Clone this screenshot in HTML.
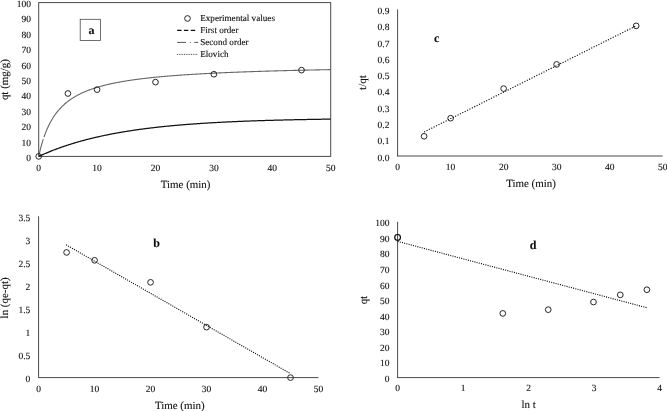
<!DOCTYPE html>
<html><head><meta charset="utf-8"><title>Kinetic models</title>
<style>
html,body{margin:0;padding:0;background:#fff;}
body{width:667px;height:411px;overflow:hidden;}
svg{display:block;font-family:"Liberation Serif","Times New Roman",serif;fill:#111;}
text{stroke:#111;stroke-width:0.12px;text-rendering:geometricPrecision;}
</style></head><body>
<svg width="667" height="411" viewBox="0 0 667 411">
<rect x="0" y="0" width="667" height="411" fill="#fff"/>
<rect x="38.7" y="2.6" width="292.00" height="153.80" fill="none" stroke="#4a4a4a" stroke-width="1.0"/>
<text x="31.00" y="160.90" font-size="9.5" text-anchor="end" font-weight="normal">0</text>
<text x="31.00" y="145.52" font-size="9.5" text-anchor="end" font-weight="normal">10</text>
<text x="31.00" y="130.14" font-size="9.5" text-anchor="end" font-weight="normal">20</text>
<text x="31.00" y="114.76" font-size="9.5" text-anchor="end" font-weight="normal">30</text>
<text x="31.00" y="99.38" font-size="9.5" text-anchor="end" font-weight="normal">40</text>
<text x="31.00" y="84.00" font-size="9.5" text-anchor="end" font-weight="normal">50</text>
<text x="31.00" y="68.62" font-size="9.5" text-anchor="end" font-weight="normal">60</text>
<text x="31.00" y="53.24" font-size="9.5" text-anchor="end" font-weight="normal">70</text>
<text x="31.00" y="37.86" font-size="9.5" text-anchor="end" font-weight="normal">80</text>
<text x="31.00" y="22.48" font-size="9.5" text-anchor="end" font-weight="normal">90</text>
<text x="31.00" y="7.10" font-size="9.5" text-anchor="end" font-weight="normal">100</text>
<text x="38.70" y="170.60" font-size="9.5" text-anchor="middle" font-weight="normal">0</text>
<text x="97.10" y="170.60" font-size="9.5" text-anchor="middle" font-weight="normal">10</text>
<text x="155.50" y="170.60" font-size="9.5" text-anchor="middle" font-weight="normal">20</text>
<text x="213.90" y="170.60" font-size="9.5" text-anchor="middle" font-weight="normal">30</text>
<text x="272.30" y="170.60" font-size="9.5" text-anchor="middle" font-weight="normal">40</text>
<text x="330.70" y="170.60" font-size="9.5" text-anchor="middle" font-weight="normal">50</text>
<text x="185.60" y="188.30" font-size="10.95" text-anchor="middle" font-weight="normal">Time (min)</text>
<text x="8.50" y="79.60" font-size="10.95" text-anchor="middle" font-weight="normal" transform="rotate(-90 8.50 79.60)">qt (mg/g)</text>
<polyline fill="none" stroke="#666" stroke-width="1.1" stroke-dasharray="17.8 2.2 2000" points="38.70,156.40 39.28,153.77 39.87,151.29 40.45,148.94 41.04,146.71 41.62,144.60 42.20,142.59 42.79,140.68 43.37,138.86 43.96,137.12 44.54,135.47 45.12,133.88 45.71,132.36 46.29,130.91 46.88,129.52 47.46,128.18 48.04,126.90 48.63,125.67 49.21,124.48 49.80,123.34 50.38,122.24 50.96,121.18 51.55,120.16 52.13,119.17 52.72,118.22 53.30,117.30 53.88,116.41 54.47,115.55 55.05,114.72 55.64,113.91 56.22,113.13 56.80,112.37 57.39,111.64 57.97,110.93 58.56,110.23 59.14,109.56 59.72,108.91 60.31,108.27 60.89,107.66 61.48,107.06 62.06,106.47 62.64,105.90 63.23,105.35 63.81,104.81 64.40,104.28 64.98,103.77 65.56,103.27 66.15,102.79 66.73,102.31 67.32,101.85 67.90,101.39 68.48,100.95 69.07,100.52 69.65,100.10 70.24,99.68 70.82,99.28 71.40,98.89 71.99,98.50 72.57,98.12 73.16,97.75 73.74,97.39 74.32,97.04 74.91,96.69 75.49,96.35 76.08,96.02 76.66,95.69 77.24,95.37 77.83,95.06 78.41,94.75 79.00,94.45 79.58,94.16 80.16,93.87 80.75,93.58 81.33,93.30 81.92,93.03 82.50,92.76 83.08,92.50 83.67,92.24 84.25,91.98 84.84,91.73 85.42,91.49 86.00,91.25 86.59,91.01 87.17,90.78 87.76,90.55 88.34,90.32 88.92,90.10 89.51,89.88 90.09,89.67 90.68,89.46 91.26,89.25 91.84,89.05 92.43,88.84 93.01,88.65 93.60,88.45 94.18,88.26 94.76,88.07 95.35,87.89 95.93,87.70 96.52,87.52 97.10,87.34 97.68,87.17 98.27,87.00 98.85,86.83 99.44,86.66 100.02,86.49 100.60,86.33 101.19,86.17 101.77,86.01 102.36,85.86 102.94,85.70 103.52,85.55 104.11,85.40 104.69,85.25 105.28,85.11 105.86,84.96 106.44,84.82 107.03,84.68 107.61,84.55 108.20,84.41 108.78,84.27 109.36,84.14 109.95,84.01 110.53,83.88 111.12,83.75 111.70,83.63 112.28,83.50 112.87,83.38 113.45,83.26 114.04,83.14 114.62,83.02 115.20,82.90 115.79,82.79 116.37,82.67 116.96,82.56 117.54,82.45 118.12,82.34 118.71,82.23 119.29,82.12 119.88,82.01 120.46,81.91 121.04,81.80 121.63,81.70 122.21,81.60 122.80,81.50 123.38,81.40 123.96,81.30 124.55,81.20 125.13,81.11 125.72,81.01 126.30,80.92 126.88,80.83 127.47,80.73 128.05,80.64 128.64,80.55 129.22,80.46 129.80,80.37 130.39,80.29 130.97,80.20 131.56,80.12 132.14,80.03 132.72,79.95 133.31,79.86 133.89,79.78 134.48,79.70 135.06,79.62 135.64,79.54 136.23,79.46 136.81,79.38 137.40,79.31 137.98,79.23 138.56,79.15 139.15,79.08 139.73,79.00 140.32,78.93 140.90,78.86 141.48,78.78 142.07,78.71 142.65,78.64 143.24,78.57 143.82,78.50 144.40,78.43 144.99,78.37 145.57,78.30 146.16,78.23 146.74,78.16 147.32,78.10 147.91,78.03 148.49,77.97 149.08,77.90 149.66,77.84 150.24,77.78 150.83,77.72 151.41,77.65 152.00,77.59 152.58,77.53 153.16,77.47 153.75,77.41 154.33,77.35 154.92,77.29 155.50,77.24 156.08,77.18 156.67,77.12 157.25,77.06 157.84,77.01 158.42,76.95 159.00,76.90 159.59,76.84 160.17,76.79 160.76,76.73 161.34,76.68 161.92,76.63 162.51,76.57 163.09,76.52 163.68,76.47 164.26,76.42 164.84,76.37 165.43,76.32 166.01,76.27 166.60,76.22 167.18,76.17 167.76,76.12 168.35,76.07 168.93,76.02 169.52,75.97 170.10,75.93 170.68,75.88 171.27,75.83 171.85,75.79 172.44,75.74 173.02,75.69 173.60,75.65 174.19,75.60 174.77,75.56 175.36,75.51 175.94,75.47 176.52,75.43 177.11,75.38 177.69,75.34 178.28,75.30 178.86,75.26 179.44,75.21 180.03,75.17 180.61,75.13 181.20,75.09 181.78,75.05 182.36,75.01 182.95,74.97 183.53,74.93 184.12,74.89 184.70,74.85 185.28,74.81 185.87,74.77 186.45,74.73 187.04,74.69 187.62,74.65 188.20,74.62 188.79,74.58 189.37,74.54 189.96,74.50 190.54,74.47 191.12,74.43 191.71,74.39 192.29,74.36 192.88,74.32 193.46,74.29 194.04,74.25 194.63,74.22 195.21,74.18 195.80,74.15 196.38,74.11 196.96,74.08 197.55,74.04 198.13,74.01 198.72,73.98 199.30,73.94 199.88,73.91 200.47,73.88 201.05,73.84 201.64,73.81 202.22,73.78 202.80,73.75 203.39,73.72 203.97,73.68 204.56,73.65 205.14,73.62 205.72,73.59 206.31,73.56 206.89,73.53 207.48,73.50 208.06,73.47 208.64,73.44 209.23,73.41 209.81,73.38 210.40,73.35 210.98,73.32 211.56,73.29 212.15,73.26 212.73,73.23 213.32,73.20 213.90,73.17 214.48,73.15 215.07,73.12 215.65,73.09 216.24,73.06 216.82,73.03 217.40,73.01 217.99,72.98 218.57,72.95 219.16,72.92 219.74,72.90 220.32,72.87 220.91,72.84 221.49,72.82 222.08,72.79 222.66,72.77 223.24,72.74 223.83,72.71 224.41,72.69 225.00,72.66 225.58,72.64 226.16,72.61 226.75,72.59 227.33,72.56 227.92,72.54 228.50,72.51 229.08,72.49 229.67,72.46 230.25,72.44 230.84,72.41 231.42,72.39 232.00,72.37 232.59,72.34 233.17,72.32 233.76,72.30 234.34,72.27 234.92,72.25 235.51,72.23 236.09,72.20 236.68,72.18 237.26,72.16 237.84,72.13 238.43,72.11 239.01,72.09 239.60,72.07 240.18,72.05 240.76,72.02 241.35,72.00 241.93,71.98 242.52,71.96 243.10,71.94 243.68,71.91 244.27,71.89 244.85,71.87 245.44,71.85 246.02,71.83 246.60,71.81 247.19,71.79 247.77,71.77 248.36,71.75 248.94,71.73 249.52,71.71 250.11,71.69 250.69,71.67 251.28,71.65 251.86,71.63 252.44,71.61 253.03,71.59 253.61,71.57 254.20,71.55 254.78,71.53 255.36,71.51 255.95,71.49 256.53,71.47 257.12,71.45 257.70,71.43 258.28,71.41 258.87,71.39 259.45,71.37 260.04,71.36 260.62,71.34 261.20,71.32 261.79,71.30 262.37,71.28 262.96,71.26 263.54,71.25 264.12,71.23 264.71,71.21 265.29,71.19 265.88,71.17 266.46,71.16 267.04,71.14 267.63,71.12 268.21,71.10 268.80,71.09 269.38,71.07 269.96,71.05 270.55,71.03 271.13,71.02 271.72,71.00 272.30,70.98 272.88,70.97 273.47,70.95 274.05,70.93 274.64,70.92 275.22,70.90 275.80,70.88 276.39,70.87 276.97,70.85 277.56,70.83 278.14,70.82 278.72,70.80 279.31,70.79 279.89,70.77 280.48,70.75 281.06,70.74 281.64,70.72 282.23,70.71 282.81,70.69 283.40,70.68 283.98,70.66 284.56,70.65 285.15,70.63 285.73,70.61 286.32,70.60 286.90,70.58 287.48,70.57 288.07,70.55 288.65,70.54 289.24,70.52 289.82,70.51 290.40,70.50 290.99,70.48 291.57,70.47 292.16,70.45 292.74,70.44 293.32,70.42 293.91,70.41 294.49,70.39 295.08,70.38 295.66,70.37 296.24,70.35 296.83,70.34 297.41,70.32 298.00,70.31 298.58,70.30 299.16,70.28 299.75,70.27 300.33,70.25 300.92,70.24 301.50,70.23 302.08,70.21 302.67,70.20 303.25,70.19 303.84,70.17 304.42,70.16 305.00,70.15 305.59,70.13 306.17,70.12 306.76,70.11 307.34,70.09 307.92,70.08 308.51,70.07 309.09,70.06 309.68,70.04 310.26,70.03 310.84,70.02 311.43,70.00 312.01,69.99 312.60,69.98 313.18,69.97 313.76,69.95 314.35,69.94 314.93,69.93 315.52,69.92 316.10,69.90 316.68,69.89 317.27,69.88 317.85,69.87 318.44,69.86 319.02,69.84 319.60,69.83 320.19,69.82 320.77,69.81 321.36,69.80 321.94,69.78 322.52,69.77 323.11,69.76 323.69,69.75 324.28,69.74 324.86,69.73 325.44,69.71 326.03,69.70 326.61,69.69 327.20,69.68 327.78,69.67 328.36,69.66 328.95,69.65 329.53,69.63 330.12,69.62 330.70,69.61"/>
<polyline fill="none" stroke="#111" stroke-width="1.25" points="38.70,156.40 39.28,156.13 39.87,155.87 40.45,155.60 41.04,155.34 41.62,155.08 42.20,154.82 42.79,154.56 43.37,154.31 43.96,154.05 44.54,153.80 45.12,153.55 45.71,153.30 46.29,153.06 46.88,152.81 47.46,152.57 48.04,152.33 48.63,152.09 49.21,151.85 49.80,151.61 50.38,151.38 50.96,151.14 51.55,150.91 52.13,150.68 52.72,150.45 53.30,150.23 53.88,150.00 54.47,149.78 55.05,149.56 55.64,149.34 56.22,149.12 56.80,148.90 57.39,148.68 57.97,148.47 58.56,148.26 59.14,148.04 59.72,147.84 60.31,147.63 60.89,147.42 61.48,147.21 62.06,147.01 62.64,146.81 63.23,146.61 63.81,146.41 64.40,146.21 64.98,146.01 65.56,145.81 66.15,145.62 66.73,145.43 67.32,145.24 67.90,145.05 68.48,144.86 69.07,144.67 69.65,144.48 70.24,144.30 70.82,144.11 71.40,143.93 71.99,143.75 72.57,143.57 73.16,143.39 73.74,143.21 74.32,143.04 74.91,142.86 75.49,142.69 76.08,142.52 76.66,142.34 77.24,142.17 77.83,142.01 78.41,141.84 79.00,141.67 79.58,141.51 80.16,141.34 80.75,141.18 81.33,141.02 81.92,140.86 82.50,140.70 83.08,140.54 83.67,140.38 84.25,140.22 84.84,140.07 85.42,139.91 86.00,139.76 86.59,139.61 87.17,139.46 87.76,139.31 88.34,139.16 88.92,139.01 89.51,138.86 90.09,138.72 90.68,138.57 91.26,138.43 91.84,138.29 92.43,138.14 93.01,138.00 93.60,137.86 94.18,137.72 94.76,137.59 95.35,137.45 95.93,137.31 96.52,137.18 97.10,137.04 97.68,136.91 98.27,136.78 98.85,136.65 99.44,136.52 100.02,136.39 100.60,136.26 101.19,136.13 101.77,136.00 102.36,135.88 102.94,135.75 103.52,135.63 104.11,135.51 104.69,135.38 105.28,135.26 105.86,135.14 106.44,135.02 107.03,134.90 107.61,134.78 108.20,134.67 108.78,134.55 109.36,134.43 109.95,134.32 110.53,134.20 111.12,134.09 111.70,133.98 112.28,133.87 112.87,133.76 113.45,133.65 114.04,133.54 114.62,133.43 115.20,133.32 115.79,133.21 116.37,133.11 116.96,133.00 117.54,132.89 118.12,132.79 118.71,132.69 119.29,132.58 119.88,132.48 120.46,132.38 121.04,132.28 121.63,132.18 122.21,132.08 122.80,131.98 123.38,131.88 123.96,131.79 124.55,131.69 125.13,131.59 125.72,131.50 126.30,131.41 126.88,131.31 127.47,131.22 128.05,131.13 128.64,131.03 129.22,130.94 129.80,130.85 130.39,130.76 130.97,130.67 131.56,130.58 132.14,130.50 132.72,130.41 133.31,130.32 133.89,130.23 134.48,130.15 135.06,130.06 135.64,129.98 136.23,129.90 136.81,129.81 137.40,129.73 137.98,129.65 138.56,129.57 139.15,129.48 139.73,129.40 140.32,129.32 140.90,129.24 141.48,129.17 142.07,129.09 142.65,129.01 143.24,128.93 143.82,128.86 144.40,128.78 144.99,128.70 145.57,128.63 146.16,128.56 146.74,128.48 147.32,128.41 147.91,128.33 148.49,128.26 149.08,128.19 149.66,128.12 150.24,128.05 150.83,127.98 151.41,127.91 152.00,127.84 152.58,127.77 153.16,127.70 153.75,127.63 154.33,127.57 154.92,127.50 155.50,127.43 156.08,127.37 156.67,127.30 157.25,127.23 157.84,127.17 158.42,127.11 159.00,127.04 159.59,126.98 160.17,126.92 160.76,126.85 161.34,126.79 161.92,126.73 162.51,126.67 163.09,126.61 163.68,126.55 164.26,126.49 164.84,126.43 165.43,126.37 166.01,126.31 166.60,126.25 167.18,126.19 167.76,126.14 168.35,126.08 168.93,126.02 169.52,125.97 170.10,125.91 170.68,125.85 171.27,125.80 171.85,125.74 172.44,125.69 173.02,125.64 173.60,125.58 174.19,125.53 174.77,125.48 175.36,125.42 175.94,125.37 176.52,125.32 177.11,125.27 177.69,125.22 178.28,125.17 178.86,125.12 179.44,125.07 180.03,125.02 180.61,124.97 181.20,124.92 181.78,124.87 182.36,124.82 182.95,124.77 183.53,124.73 184.12,124.68 184.70,124.63 185.28,124.59 185.87,124.54 186.45,124.49 187.04,124.45 187.62,124.40 188.20,124.36 188.79,124.31 189.37,124.27 189.96,124.22 190.54,124.18 191.12,124.14 191.71,124.09 192.29,124.05 192.88,124.01 193.46,123.97 194.04,123.92 194.63,123.88 195.21,123.84 195.80,123.80 196.38,123.76 196.96,123.72 197.55,123.68 198.13,123.64 198.72,123.60 199.30,123.56 199.88,123.52 200.47,123.48 201.05,123.44 201.64,123.40 202.22,123.37 202.80,123.33 203.39,123.29 203.97,123.25 204.56,123.22 205.14,123.18 205.72,123.14 206.31,123.11 206.89,123.07 207.48,123.04 208.06,123.00 208.64,122.96 209.23,122.93 209.81,122.89 210.40,122.86 210.98,122.83 211.56,122.79 212.15,122.76 212.73,122.72 213.32,122.69 213.90,122.66 214.48,122.63 215.07,122.59 215.65,122.56 216.24,122.53 216.82,122.50 217.40,122.46 217.99,122.43 218.57,122.40 219.16,122.37 219.74,122.34 220.32,122.31 220.91,122.28 221.49,122.25 222.08,122.22 222.66,122.19 223.24,122.16 223.83,122.13 224.41,122.10 225.00,122.07 225.58,122.04 226.16,122.01 226.75,121.99 227.33,121.96 227.92,121.93 228.50,121.90 229.08,121.87 229.67,121.85 230.25,121.82 230.84,121.79 231.42,121.77 232.00,121.74 232.59,121.71 233.17,121.69 233.76,121.66 234.34,121.64 234.92,121.61 235.51,121.58 236.09,121.56 236.68,121.53 237.26,121.51 237.84,121.48 238.43,121.46 239.01,121.43 239.60,121.41 240.18,121.39 240.76,121.36 241.35,121.34 241.93,121.31 242.52,121.29 243.10,121.27 243.68,121.24 244.27,121.22 244.85,121.20 245.44,121.18 246.02,121.15 246.60,121.13 247.19,121.11 247.77,121.09 248.36,121.07 248.94,121.04 249.52,121.02 250.11,121.00 250.69,120.98 251.28,120.96 251.86,120.94 252.44,120.92 253.03,120.90 253.61,120.88 254.20,120.85 254.78,120.83 255.36,120.81 255.95,120.79 256.53,120.77 257.12,120.75 257.70,120.74 258.28,120.72 258.87,120.70 259.45,120.68 260.04,120.66 260.62,120.64 261.20,120.62 261.79,120.60 262.37,120.58 262.96,120.57 263.54,120.55 264.12,120.53 264.71,120.51 265.29,120.49 265.88,120.48 266.46,120.46 267.04,120.44 267.63,120.42 268.21,120.41 268.80,120.39 269.38,120.37 269.96,120.35 270.55,120.34 271.13,120.32 271.72,120.30 272.30,120.29 272.88,120.27 273.47,120.26 274.05,120.24 274.64,120.22 275.22,120.21 275.80,120.19 276.39,120.18 276.97,120.16 277.56,120.15 278.14,120.13 278.72,120.11 279.31,120.10 279.89,120.08 280.48,120.07 281.06,120.06 281.64,120.04 282.23,120.03 282.81,120.01 283.40,120.00 283.98,119.98 284.56,119.97 285.15,119.95 285.73,119.94 286.32,119.93 286.90,119.91 287.48,119.90 288.07,119.89 288.65,119.87 289.24,119.86 289.82,119.85 290.40,119.83 290.99,119.82 291.57,119.81 292.16,119.79 292.74,119.78 293.32,119.77 293.91,119.75 294.49,119.74 295.08,119.73 295.66,119.72 296.24,119.70 296.83,119.69 297.41,119.68 298.00,119.67 298.58,119.66 299.16,119.64 299.75,119.63 300.33,119.62 300.92,119.61 301.50,119.60 302.08,119.59 302.67,119.57 303.25,119.56 303.84,119.55 304.42,119.54 305.00,119.53 305.59,119.52 306.17,119.51 306.76,119.50 307.34,119.49 307.92,119.48 308.51,119.46 309.09,119.45 309.68,119.44 310.26,119.43 310.84,119.42 311.43,119.41 312.01,119.40 312.60,119.39 313.18,119.38 313.76,119.37 314.35,119.36 314.93,119.35 315.52,119.34 316.10,119.33 316.68,119.32 317.27,119.31 317.85,119.30 318.44,119.29 319.02,119.29 319.60,119.28 320.19,119.27 320.77,119.26 321.36,119.25 321.94,119.24 322.52,119.23 323.11,119.22 323.69,119.21 324.28,119.20 324.86,119.20 325.44,119.19 326.03,119.18 326.61,119.17 327.20,119.16 327.78,119.15 328.36,119.14 328.95,119.14 329.53,119.13 330.12,119.12 330.70,119.11"/>
<circle cx="38.70" cy="156.40" r="2.85" fill="none" stroke="#1a1a1a" stroke-width="0.95"/>
<circle cx="67.90" cy="93.50" r="2.85" fill="none" stroke="#1a1a1a" stroke-width="0.95"/>
<circle cx="97.10" cy="89.65" r="2.85" fill="none" stroke="#1a1a1a" stroke-width="0.95"/>
<circle cx="155.50" cy="82.11" r="2.85" fill="none" stroke="#1a1a1a" stroke-width="0.95"/>
<circle cx="213.90" cy="74.27" r="2.85" fill="none" stroke="#1a1a1a" stroke-width="0.95"/>
<circle cx="301.50" cy="70.12" r="2.85" fill="none" stroke="#1a1a1a" stroke-width="0.95"/>
<rect x="80.2" y="19.3" width="20.2" height="21.2" fill="#fff" stroke="#4a4a4a" stroke-width="0.8"/>
<text x="91.60" y="33.90" font-size="12" text-anchor="middle" font-weight="bold">a</text>
<circle cx="187.50" cy="18.50" r="2.85" fill="none" stroke="#1a1a1a" stroke-width="0.95"/>
<text x="200.20" y="20.80" font-size="9.15" text-anchor="start" font-weight="normal">Experimental values</text>
<line x1="177.10" y1="30.30" x2="195.20" y2="30.30" stroke="#111" stroke-width="1.2" stroke-dasharray="4.4 2.45"/>
<text x="200.20" y="32.70" font-size="9.15" text-anchor="start" font-weight="normal">First order</text>
<line x1="177.10" y1="42.40" x2="186.00" y2="42.40" stroke="#555" stroke-width="1.0" />
<line x1="189.90" y1="42.40" x2="190.90" y2="42.40" stroke="#555" stroke-width="1.0" />
<line x1="194.40" y1="42.40" x2="198.10" y2="42.40" stroke="#555" stroke-width="1.0" />
<text x="200.20" y="44.60" font-size="9.15" text-anchor="start" font-weight="normal">Second order</text>
<line x1="177.10" y1="54.40" x2="198.10" y2="54.40" stroke="#333" stroke-width="0.9" stroke-dasharray="0.9 0.85"/>
<text x="200.20" y="56.50" font-size="9.15" text-anchor="start" font-weight="normal">Elovich</text>
<line x1="397.60" y1="9.40" x2="397.60" y2="156.40" stroke="#4a4a4a" stroke-width="1.0" />
<line x1="397.20" y1="156.00" x2="662.70" y2="156.00" stroke="#4a4a4a" stroke-width="1.0" />
<text x="389.40" y="160.60" font-size="9.5" text-anchor="end" font-weight="normal">0.0</text>
<text x="389.40" y="144.31" font-size="9.5" text-anchor="end" font-weight="normal">0.1</text>
<text x="389.40" y="128.02" font-size="9.5" text-anchor="end" font-weight="normal">0.2</text>
<text x="389.40" y="111.73" font-size="9.5" text-anchor="end" font-weight="normal">0.3</text>
<text x="389.40" y="95.44" font-size="9.5" text-anchor="end" font-weight="normal">0.4</text>
<text x="389.40" y="79.16" font-size="9.5" text-anchor="end" font-weight="normal">0.5</text>
<text x="389.40" y="62.87" font-size="9.5" text-anchor="end" font-weight="normal">0.6</text>
<text x="389.40" y="46.58" font-size="9.5" text-anchor="end" font-weight="normal">0.7</text>
<text x="389.40" y="30.29" font-size="9.5" text-anchor="end" font-weight="normal">0.8</text>
<text x="389.40" y="14.00" font-size="9.5" text-anchor="end" font-weight="normal">0.9</text>
<text x="397.60" y="169.90" font-size="9.5" text-anchor="middle" font-weight="normal">0</text>
<text x="450.62" y="169.90" font-size="9.5" text-anchor="middle" font-weight="normal">10</text>
<text x="503.64" y="169.90" font-size="9.5" text-anchor="middle" font-weight="normal">20</text>
<text x="556.66" y="169.90" font-size="9.5" text-anchor="middle" font-weight="normal">30</text>
<text x="609.68" y="169.90" font-size="9.5" text-anchor="middle" font-weight="normal">40</text>
<text x="662.70" y="169.90" font-size="9.5" text-anchor="middle" font-weight="normal">50</text>
<text x="531.00" y="187.00" font-size="10.95" text-anchor="middle" font-weight="normal">Time (min)</text>
<text x="365.70" y="82.60" font-size="10.95" text-anchor="middle" font-weight="normal" transform="rotate(-90 365.70 82.60)">t/qt</text>
<text x="436.60" y="42.30" font-size="12" text-anchor="middle" font-weight="bold">c</text>
<line x1="424.11" y1="131.97" x2="636.19" y2="25.79" stroke="#000" stroke-width="1.15" stroke-dasharray="1.1 1.57"/>
<circle cx="424.11" cy="136.29" r="2.85" fill="none" stroke="#1a1a1a" stroke-width="0.95"/>
<circle cx="450.62" cy="118.21" r="2.85" fill="none" stroke="#1a1a1a" stroke-width="0.95"/>
<circle cx="503.64" cy="88.61" r="2.85" fill="none" stroke="#1a1a1a" stroke-width="0.95"/>
<circle cx="556.66" cy="64.41" r="2.85" fill="none" stroke="#1a1a1a" stroke-width="0.95"/>
<circle cx="636.19" cy="25.85" r="2.85" fill="none" stroke="#1a1a1a" stroke-width="0.95"/>
<line x1="38.60" y1="216.30" x2="38.60" y2="378.00" stroke="#4a4a4a" stroke-width="1.0" />
<line x1="38.20" y1="377.60" x2="318.50" y2="377.60" stroke="#4a4a4a" stroke-width="1.0" />
<text x="30.30" y="381.95" font-size="9.5" text-anchor="end" font-weight="normal">0</text>
<text x="30.30" y="358.91" font-size="9.5" text-anchor="end" font-weight="normal">0.5</text>
<text x="30.30" y="335.86" font-size="9.5" text-anchor="end" font-weight="normal">1</text>
<text x="30.30" y="312.82" font-size="9.5" text-anchor="end" font-weight="normal">1.5</text>
<text x="30.30" y="289.78" font-size="9.5" text-anchor="end" font-weight="normal">2</text>
<text x="30.30" y="266.74" font-size="9.5" text-anchor="end" font-weight="normal">2.5</text>
<text x="30.30" y="243.69" font-size="9.5" text-anchor="end" font-weight="normal">3</text>
<text x="30.30" y="220.65" font-size="9.5" text-anchor="end" font-weight="normal">3.5</text>
<text x="38.60" y="391.70" font-size="9.5" text-anchor="middle" font-weight="normal">0</text>
<text x="94.58" y="391.70" font-size="9.5" text-anchor="middle" font-weight="normal">10</text>
<text x="150.56" y="391.70" font-size="9.5" text-anchor="middle" font-weight="normal">20</text>
<text x="206.54" y="391.70" font-size="9.5" text-anchor="middle" font-weight="normal">30</text>
<text x="262.52" y="391.70" font-size="9.5" text-anchor="middle" font-weight="normal">40</text>
<text x="318.50" y="391.70" font-size="9.5" text-anchor="middle" font-weight="normal">50</text>
<text x="179.80" y="408.50" font-size="10.95" text-anchor="middle" font-weight="normal">Time (min)</text>
<text x="8.10" y="297.90" font-size="10.95" text-anchor="middle" font-weight="normal" transform="rotate(-90 8.10 297.90)">ln (qe-qt)</text>
<text x="156.60" y="246.90" font-size="12" text-anchor="middle" font-weight="bold">b</text>
<line x1="66.10" y1="244.80" x2="290.40" y2="373.60" stroke="#000" stroke-width="1.1" stroke-dasharray="1.05 1.22"/>
<circle cx="66.59" cy="252.43" r="2.85" fill="none" stroke="#1a1a1a" stroke-width="0.95"/>
<circle cx="94.58" cy="260.31" r="2.85" fill="none" stroke="#1a1a1a" stroke-width="0.95"/>
<circle cx="150.56" cy="282.34" r="2.85" fill="none" stroke="#1a1a1a" stroke-width="0.95"/>
<circle cx="206.54" cy="327.18" r="2.85" fill="none" stroke="#1a1a1a" stroke-width="0.95"/>
<circle cx="290.51" cy="377.60" r="2.85" fill="none" stroke="#1a1a1a" stroke-width="0.95"/>
<line x1="397.60" y1="221.80" x2="397.60" y2="378.00" stroke="#4a4a4a" stroke-width="1.0" />
<line x1="397.20" y1="377.60" x2="659.60" y2="377.60" stroke="#4a4a4a" stroke-width="1.0" />
<text x="389.40" y="382.00" font-size="9.5" text-anchor="end" font-weight="normal">0</text>
<text x="389.40" y="366.42" font-size="9.5" text-anchor="end" font-weight="normal">10</text>
<text x="389.40" y="350.84" font-size="9.5" text-anchor="end" font-weight="normal">20</text>
<text x="389.40" y="335.26" font-size="9.5" text-anchor="end" font-weight="normal">30</text>
<text x="389.40" y="319.68" font-size="9.5" text-anchor="end" font-weight="normal">40</text>
<text x="389.40" y="304.10" font-size="9.5" text-anchor="end" font-weight="normal">50</text>
<text x="389.40" y="288.52" font-size="9.5" text-anchor="end" font-weight="normal">60</text>
<text x="389.40" y="272.94" font-size="9.5" text-anchor="end" font-weight="normal">70</text>
<text x="389.40" y="257.36" font-size="9.5" text-anchor="end" font-weight="normal">80</text>
<text x="389.40" y="241.78" font-size="9.5" text-anchor="end" font-weight="normal">90</text>
<text x="389.40" y="226.20" font-size="9.5" text-anchor="end" font-weight="normal">100</text>
<text x="397.60" y="390.90" font-size="9.5" text-anchor="middle" font-weight="normal">0</text>
<text x="463.10" y="390.90" font-size="9.5" text-anchor="middle" font-weight="normal">1</text>
<text x="528.60" y="390.90" font-size="9.5" text-anchor="middle" font-weight="normal">2</text>
<text x="594.10" y="390.90" font-size="9.5" text-anchor="middle" font-weight="normal">3</text>
<text x="659.60" y="390.90" font-size="9.5" text-anchor="middle" font-weight="normal">4</text>
<text x="528.60" y="407.70" font-size="10.95" text-anchor="middle" font-weight="normal">ln t</text>
<text x="366.70" y="300.10" font-size="10.95" text-anchor="middle" font-weight="normal" transform="rotate(-90 366.70 300.10)">qt</text>
<text x="533.10" y="248.60" font-size="12" text-anchor="middle" font-weight="bold">d</text>
<line x1="397.60" y1="241.40" x2="646.80" y2="307.70" stroke="#000" stroke-width="1.1" stroke-dasharray="1.05 1.22"/>
<circle cx="397.60" cy="237.38" r="2.85" fill="none" stroke="#000" stroke-width="1.15"/>
<circle cx="502.79" cy="313.41" r="2.85" fill="none" stroke="#1a1a1a" stroke-width="0.95"/>
<circle cx="548.25" cy="309.67" r="2.85" fill="none" stroke="#1a1a1a" stroke-width="0.95"/>
<circle cx="593.45" cy="302.04" r="2.85" fill="none" stroke="#1a1a1a" stroke-width="0.95"/>
<circle cx="620.30" cy="294.87" r="2.85" fill="none" stroke="#1a1a1a" stroke-width="0.95"/>
<circle cx="646.89" cy="289.73" r="2.85" fill="none" stroke="#1a1a1a" stroke-width="0.95"/>
</svg>
</body></html>
